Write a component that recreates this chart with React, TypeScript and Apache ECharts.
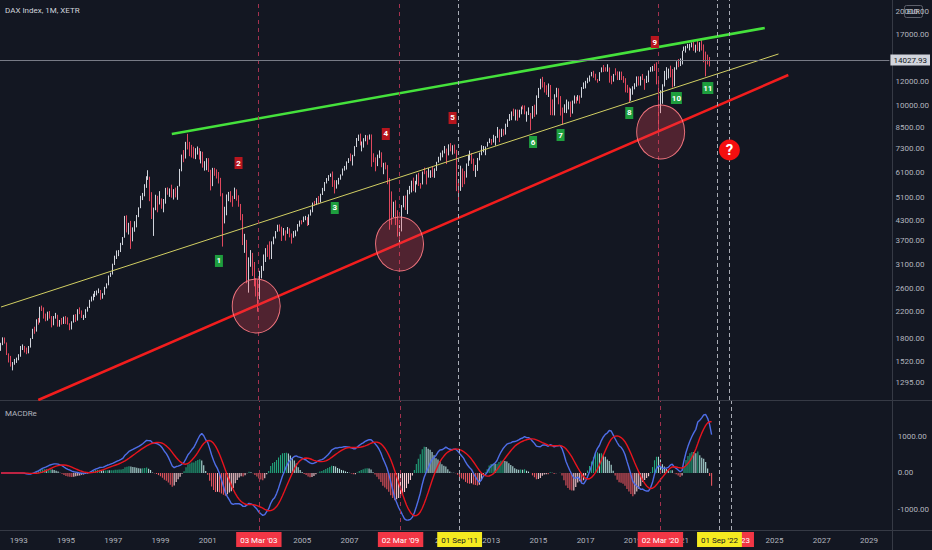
import React, { useEffect, useRef } from "react";
import * as echarts from "echarts";

// ---------- DATA (monthly DAX candles, Apr 1992 .. May 2022) ----------
const FIRST_YEAR = 1992;
const FIRST_MONTH = 4; // April
const MONTH_COUNT = 453; // axis runs Apr 1992 .. Dec 2029
const FIRST_OPEN = 1690;
const LAST_PRICE = 14027.93;

const closes = [
  1720, 1800, 1740, 1600, 1530, 1500, 1500, 1520, 1545,
  1580, 1680, 1680, 1660, 1630, 1690, 1790, 1920, 1900, 2060, 2030, 2267,
  2240, 2120, 2060, 2170, 2110, 1990, 2100, 2120, 1980, 2040, 2030, 2107,
  2050, 2000, 1920, 2030, 2110, 2050, 2220, 2170, 2100, 2100, 2210, 2254,
  2380, 2400, 2480, 2490, 2520, 2550, 2420, 2500, 2620, 2670, 2850, 2889,
  3100, 3270, 3420, 3440, 3590, 3790, 4440, 3980, 4170, 3780, 4060, 4250,
  4440, 4710, 5100, 5200, 5570, 5900, 5920, 5140, 4470, 4670, 5060, 5000,
  5000, 4860, 4880, 5390, 5260, 5380, 5130, 5330, 5150, 5530, 6220, 6958,
  6840, 7640, 7600, 7420, 7110, 6900, 7190, 7320, 6800, 7080, 6370, 6434,
  6790, 6210, 5830, 6260, 6120, 6060, 5860, 5190, 4310, 4560, 5100, 5160,
  5100, 5040, 5400, 5040, 4820, 4380, 3700, 3710, 2770, 3150, 3320, 2893,
  2750, 2550, 2420, 2940, 2980, 3220, 3490, 3480, 3260, 3650, 3790, 3965,
  4060, 4020, 3860, 3985, 3920, 4050, 3895, 3785, 3890, 3960, 4130, 4256,
  4250, 4350, 4350, 4180, 4460, 4590, 4890, 4830, 5040, 4930, 5190, 5408,
  5670, 5800, 5970, 6010, 5690, 5680, 5680, 5860, 6000, 6270, 6310, 6597,
  6790, 6720, 6920, 7410, 7880, 8010, 7580, 7640, 7860, 8020, 7870, 8067,
  6850, 6750, 6530, 6950, 7100, 6420, 6480, 6420, 5830, 4990, 4670, 4810,
  4340, 3840, 4080, 4770, 4940, 4810, 5330, 5460, 5680, 5410, 5630, 5957,
  5610, 5600, 6150, 6140, 5960, 5970, 6150, 5920, 6230, 6600, 6690, 6914,
  7080, 7270, 6950, 7510, 7290, 7380, 7160, 5780, 5500, 6140, 6090, 5898,
  6460, 6860, 6950, 6760, 6260, 6420, 6770, 6970, 7220, 7260, 7400, 7612,
  7780, 7740, 7800, 7910, 8350, 7960, 8280, 8100, 8590, 9030, 9400, 9552,
  9310, 9690, 9560, 9600, 9940, 9830, 9410, 9470, 9470, 9330, 9980, 9805,
  10690, 11400, 11970, 11450, 11410, 10940, 11310, 10260, 9660, 10850, 11380, 10743,
  9800, 9500, 9965, 10040, 10260, 9680, 10340, 10590, 10510, 10670, 10640, 11481,
  11540, 11830, 12310, 12440, 12620, 12330, 12120, 12060, 12830, 13230, 13020, 12918,
  13190, 12440, 12100, 12610, 12600, 12310, 12810, 12360, 12250, 11450, 11260, 10559,
  11170, 11520, 11530, 12340, 11730, 12400, 12190, 11940, 12430, 12870, 13240, 13249,
  12980, 11890, 9940, 10860, 11590, 12310, 12310, 12950, 12760, 11560, 13290, 13719,
  13430, 13790, 15010, 15140, 15420, 15530, 15540, 15840, 15260, 15690, 15100, 15885,
  15470, 14460, 14410, 14100, 14027.93,
];

const highs = [
  1740, 1812, 1810, 1745, 1610, 1580, 1510, 1545, 1560,
  1600, 1700, 1720, 1700, 1680, 1700, 1800, 1930, 1960, 2070, 2090, 2270,
  2290, 2260, 2160, 2190, 2200, 2120, 2120, 2170, 2140, 2060, 2090, 2110,
  2120, 2100, 2010, 2040, 2140, 2150, 2230, 2260, 2210, 2140, 2230, 2270,
  2390, 2450, 2500, 2550, 2560, 2600, 2570, 2510, 2630, 2700, 2860, 2920,
  3120, 3310, 3440, 3450, 3640, 3800, 4440, 4460, 4220, 4280, 4080, 4270,
  4470, 4730, 5150, 5260, 5610, 5950, 6220, 5930, 5290, 4720, 5190, 5150,
  5330, 5050, 5030, 5460, 5480, 5440, 5590, 5410, 5470, 5540, 6280, 6980,
  7220, 7670, 8136, 7670, 7500, 7400, 7320, 7410, 7320, 7160, 7130, 6650,
  6800, 6800, 6240, 6330, 6330, 6260, 6140, 5880, 5250, 4750, 5200, 5300,
  5330, 5150, 5470, 5400, 5170, 4850, 4500, 3890, 3720, 3270, 3450, 3380,
  3160, 2800, 2770, 2960, 3070, 3340, 3500, 3590, 3680, 3680, 3810, 3970,
  4160, 4170, 4100, 4060, 3990, 4090, 4050, 3900, 3970, 3990, 4180, 4290,
  4300, 4420, 4440, 4400, 4490, 4650, 4900, 4960, 5070, 5140, 5230, 5460,
  5700, 5870, 6000, 6070, 6160, 5780, 5780, 5880, 6030, 6300, 6420, 6640,
  6800, 7040, 6970, 7430, 7890, 8090, 8150, 7690, 7880, 8070, 8040, 8100,
  8100, 7050, 6840, 6980, 7200, 7100, 6570, 6590, 6460, 5870, 5320, 4930,
  4980, 4630, 4150, 4810, 5150, 5160, 5380, 5540, 5760, 5890, 5750, 6030,
  6100, 5660, 6160, 6340, 6200, 6320, 6220, 6390, 6310, 6620, 6870, 7080,
  7200, 7440, 7300, 7530, 7600, 7480, 7520, 7230, 5820, 6430, 6300, 6180,
  6540, 6960, 7190, 7060, 6780, 6470, 6810, 7080, 7480, 7440, 7410, 7670,
  7870, 7830, 8080, 8000, 8560, 8410, 8450, 8420, 8770, 9060, 9420, 9600,
  9800, 9740, 9730, 9720, 9950, 10050, 10030, 9600, 9890, 9490, 9990, 10090,
  10810, 11420, 12220, 12390, 11920, 11650, 11800, 11670, 10490, 10900, 11430, 11390,
  10750, 9880, 10120, 10480, 10330, 10330, 10400, 10800, 10700, 10830, 10800, 11490,
  11890, 12030, 12310, 12520, 12850, 12950, 12680, 12200, 12830, 13290, 13530, 13300,
  13600, 13280, 12490, 12660, 13200, 12900, 12890, 12880, 12460, 12270, 11680, 11460,
  11370, 11560, 11820, 12430, 12440, 12440, 12660, 12220, 12490, 12990, 13320, 13430,
  13640, 13800, 12100, 11230, 11730, 12950, 13310, 13170, 13460, 13130, 13300, 13900,
  14130, 14200, 15030, 15500, 15570, 15800, 15810, 15980, 16030, 15720, 16290, 16000,
  16285, 15740, 14930, 14600, 14340,
];

const lows = [
  1640, 1710, 1730, 1590, 1505, 1460, 1420, 1480, 1500,
  1530, 1570, 1650, 1620, 1600, 1610, 1680, 1790, 1860, 1890, 1990, 2020,
  2200, 2080, 2040, 2050, 2080, 1950, 1980, 2080, 1960, 1960, 1990, 2000,
  2000, 1990, 1910, 1920, 2020, 2030, 2050, 2150, 2090, 2060, 2090, 2190,
  2250, 2360, 2380, 2440, 2470, 2510, 2390, 2410, 2480, 2600, 2660, 2830,
  2880, 3090, 3230, 3300, 3400, 3580, 3780, 3930, 3870, 3480, 3680, 3950,
  4080, 4400, 4700, 4990, 5130, 5460, 5790, 4950, 4340, 3830, 4630, 4560,
  4830, 4680, 4560, 4860, 5190, 5110, 5080, 5010, 5090, 5000, 5520, 6170,
  6600, 6780, 7250, 6900, 6830, 6780, 6750, 6980, 6730, 6540, 6340, 6200,
  6220, 6140, 5360, 5530, 5970, 5850, 5640, 5130, 3540, 4200, 4460, 4950,
  4910, 4750, 5030, 4970, 4750, 4300, 3580, 3380, 2700, 2520, 3050, 2850,
  2640, 2450, 2190, 2400, 2800, 2960, 3160, 3280, 3220, 3230, 3600, 3760,
  3950, 3960, 3690, 3840, 3700, 3890, 3790, 3620, 3780, 3820, 3960, 4100,
  4170, 4240, 4300, 4120, 4150, 4450, 4560, 4780, 4810, 4840, 4900, 5180,
  5330, 5640, 5750, 5920, 5500, 5240, 5430, 5600, 5800, 5980, 6200, 6250,
  6560, 6650, 6440, 6900, 7380, 7720, 7470, 7150, 7350, 7700, 7510, 7800,
  6380, 6600, 6170, 6410, 6800, 6360, 6040, 6260, 5610, 4010, 4160, 4400,
  4150, 3810, 3589, 3960, 4730, 4640, 4500, 5210, 5280, 5330, 5280, 5600,
  5540, 5430, 5600, 6040, 5600, 5890, 5880, 5910, 5880, 6190, 6580, 6680,
  6840, 7040, 6510, 6940, 7150, 6980, 7030, 5330, 4970, 5340, 5490, 5610,
  5890, 6420, 6680, 6520, 6190, 5920, 6190, 6690, 6950, 7100, 6950, 7400,
  7600, 7500, 7630, 7460, 7900, 7650, 7950, 8030, 8090, 8560, 8950, 9000,
  9270, 8980, 8960, 9170, 9400, 9750, 9400, 8900, 9350, 8350, 9100, 9220,
  9380, 10600, 11300, 11450, 11040, 10850, 10680, 9340, 9330, 9320, 10650, 10120,
  9310, 8700, 9500, 9480, 9740, 9210, 9450, 10170, 10180, 10390, 10170, 10620,
  11330, 11380, 11820, 11960, 12440, 12310, 12070, 11870, 12020, 12810, 12840, 12890,
  12870, 11870, 11730, 11960, 12530, 12100, 12100, 12100, 11860, 11050, 11010, 10280,
  10390, 10860, 11300, 11520, 11620, 11620, 12100, 11260, 11840, 11910, 12860, 12890,
  12940, 11720, 8256, 9480, 10160, 11540, 12110, 12250, 12340, 11450, 11560, 13070,
  13310, 13420, 13580, 14990, 14820, 15300, 15060, 15400, 15020, 14820, 15010, 14920,
  15050, 13800, 12440, 13580, 13380,
];

// axis ticks (years hidden under the date tags of the reference are left out)
const yearLabels = ["1993", "1995", "1997", "1999", "2001", "2005", "2007", "2011",
  "2013", "2015", "2017", "2019", "2021", "2025", "2027", "2029"];
const priceTicks = [1295, 1520, 1800, 2200, 2600, 3100, 3700, 4300, 5100, 6100, 7300, 8500, 10000, 12000, 17000, 20000];
const macdTicks = [-1000, 0, 1000];
const PRICE_MIN = 1141;
const PRICE_MAX = 21850;
const MACD_MIN = -1562;
const MACD_MAX = 1973;

// indicator settings (MACD with simple moving averages)
const MACD_FAST = 12;
const MACD_SLOW = 26;
const MACD_SIGNAL = 9;

// vertical event lines and their time-axis tags
const eventDates = ["2003-03", "2009-03", "2011-09", "2020-03", "2022-09", "2023-03"];
const eventTags = ["03 Mar '03", "02 Mar '09", "01 Sep '11", "02 Mar '20", "01 Sep '22", "01 Mar '23"];
const eventTagKinds = ["red", "red", "yellow", "red", "yellow", "red"];
const eventLineKinds = ["red", "red", "gray", "red", "gray", "gray"];

// numbered notes
const noteTexts = ["1", "2", "3", "4", "5", "6", "7", "8", "9", "10", "11"];
const noteDates = ["2001-07", "2002-05", "2006-06", "2008-08", "2011-06", "2014-11", "2016-01", "2018-12", "2020-01", "2020-12", "2022-04"];
const notePrices = [3184, 6560, 4707, 8128, 9146, 7660, 8067, 9490, 16025, 10600, 11410];
const noteKinds = ["low", "high", "low", "high", "high", "low", "low", "low", "high", "low", "low"];

// circled lows and question mark
const circleDates = ["2003-02", "2009-03", "2020-04"];
const circlePrices = [2283, 3608, 8250];
const questionDate = "2023-03";
const questionPrice = 7222;

// trend lines (two anchor points each)
const greenLineDates = ["1999-07", "2024-09"];
const greenLinePrices = [8128, 17770];
const redLineDates = ["1993-11", "2025-09"];
const redLinePrices = [1141, 12560];
const yellowLineDates = ["1992-04", "2025-04"];
const yellowLinePrices = [2266, 14670];

// ---------- BUILD ----------
const categories: string[] = [];
for (let i = 0; i < MONTH_COUNT; i++) {
  const t = FIRST_YEAR * 12 + (FIRST_MONTH - 1) + i;
  const y = Math.floor(t / 12);
  const m = (t % 12) + 1;
  categories.push(`${y}-${String(m).padStart(2, "0")}`);
}

const candles = closes.map((c, i) => [i === 0 ? FIRST_OPEN : closes[i - 1], c, lows[i], highs[i]]);

// MACD of the monthly closes (simple moving averages; shorter windows at the very start)
function sma(src: number[], len: number): number[] {
  const out: number[] = [];
  for (let i = 0; i < src.length; i++) {
    const from = Math.max(0, i - len + 1);
    let s = 0;
    for (let j = from; j <= i; j++) s += src[j];
    out.push(s / (i - from + 1));
  }
  return out;
}
const fastMA = sma(closes, MACD_FAST);
const slowMA = sma(closes, MACD_SLOW);
const macd = fastMA.map((v, i) => v - slowMA[i]);
const signal = sma(macd, MACD_SIGNAL);
const hist = macd.map((v, i) => v - signal[i]);

const BG = "#131722";
const FONT = "Roboto, 'Noto Sans', sans-serif";
const AXIS_TEXT = "#b2b5be";

const histData = hist.map((h, i) => {
  const prev = i === 0 ? 0 : hist[i - 1];
  let color;
  if (h >= 0) color = prev < h ? "#22a67c" : "#b2dfdb";
  else color = prev < h ? "#ffcdd2" : "#e8545f";
  return { value: h, itemStyle: { color } };
});

const lineStyleFor = (kind: string) =>
  kind === "red"
    ? { color: "#a3324f", type: [4, 4], width: 1 }
    : { color: "#a9acb5", type: [4, 3], width: 1 };

const upperEventLines = eventDates.map((d, i) => ({
  xAxis: d,
  lineStyle: lineStyleFor(eventLineKinds[i]),
  label: { show: false },
}));

const order = eventDates.map((_, i) => i).sort((a, b) => {
  const ka = eventTagKinds[a] === "yellow" ? 1 : 0;
  const kb = eventTagKinds[b] === "yellow" ? 1 : 0;
  return ka - kb || a - b;
});
const lowerEventLines = order.map((i) => ({
  xAxis: eventDates[i],
  lineStyle: lineStyleFor(eventLineKinds[i]),
  label: {
    show: true,
    position: "start",
    distance: 2,
    formatter: eventTags[i],
    backgroundColor: eventTagKinds[i] === "yellow" ? "#f5ea20" : "#f23645",
    color: eventTagKinds[i] === "yellow" ? "#131722" : "#ffffff",
    padding: [4, 4, 3, 4],
    fontSize: 8,
    fontFamily: FONT,
  },
}));

const notePoints = noteTexts.map((t, i) => ({
  name: t,
  coord: [noteDates[i], notePrices[i]],
  symbol: "rect",
  symbolSize: [t.length > 1 ? 11 : 8, 12],
  itemStyle: { color: noteKinds[i] === "low" ? "#1e9e3e" : "#b8161e" },
  label: { show: true, formatter: t, color: "#ffffff", fontSize: 8, fontWeight: "bold", fontFamily: FONT },
}));
const circlePoints = circleDates.map((d, i) => ({
  coord: [d, circlePrices[i]],
  symbol: "circle",
  symbolSize: [48, 54],
  itemStyle: { color: "rgba(240,70,85,0.28)", borderColor: "rgba(250,120,130,0.95)", borderWidth: 1 },
  label: { show: false },
}));
const questionPoint = {
  coord: [questionDate, questionPrice],
  symbol: "circle",
  symbolSize: 21,
  itemStyle: { color: "#f50f0f" },
  label: { show: true, formatter: "?", color: "#ffffff", fontSize: 15, fontWeight: "bold", fontFamily: FONT },
};

const trend = (name: string, dates: string[], prices: number[], color: string, width: number) => ({
  name,
  type: "line",
  xAxisIndex: 0,
  yAxisIndex: 0,
  data: dates.map((d, i) => [d, prices[i]]),
  symbol: "none",
  silent: true,
  lineStyle: { color, width },
  z: 3,
});

const option: any = {
  backgroundColor: BG,
  animation: false,
  textStyle: { fontFamily: FONT },
  grid: [
    { left: 0, right: 40, top: 0, height: 400 },
    { left: 0, right: 40, top: 401, height: 129 },
  ],
  xAxis: [
    {
      type: "category", gridIndex: 0, data: categories, boundaryGap: true,
      axisLine: { show: false }, axisTick: { show: false }, axisLabel: { show: false }, splitLine: { show: false },
    },
    {
      type: "category", gridIndex: 1, data: categories, boundaryGap: true,
      axisLine: { show: false }, axisTick: { show: false }, splitLine: { show: false },
      axisLabel: {
        interval: (_i: number, v: string) => v.endsWith("-01") && yearLabels.includes(v.slice(0, 4)),
        formatter: (v: string) => v.slice(0, 4),
        color: AXIS_TEXT, fontSize: 8, margin: 6, fontFamily: FONT,
      },
    },
  ],
  yAxis: [
    {
      type: "log", logBase: 10, gridIndex: 0, position: "right", min: PRICE_MIN, max: PRICE_MAX,
      axisLine: { show: false }, axisTick: { show: false }, splitLine: { show: false },
      axisLabel: {
        customValues: priceTicks,
        formatter: (v: number) => Number(v).toFixed(2),
        color: AXIS_TEXT, fontSize: 8, margin: 6, fontFamily: FONT,
      },
    },
    {
      type: "value", gridIndex: 1, position: "right", min: MACD_MIN, max: MACD_MAX,
      axisLine: { show: false }, axisTick: { show: false }, splitLine: { show: false },
      axisLabel: {
        customValues: macdTicks,
        formatter: (v: number) => Number(v).toFixed(2),
        color: AXIS_TEXT, fontSize: 8, margin: 6, fontFamily: FONT,
      },
    },
  ],
  series: [
    {
      name: "DAX",
      type: "candlestick",
      xAxisIndex: 0,
      yAxisIndex: 0,
      data: candles,
      barWidth: "62%",
      itemStyle: { color: "#d1d4dc", color0: "#e0485e", borderColor: "#d1d4dc", borderColor0: "#e0485e", borderWidth: 1 },
      markLine: {
        silent: true,
        symbol: ["none", "none"],
        data: [
          ...upperEventLines,
          {
            yAxis: LAST_PRICE,
            lineStyle: { color: "#787b86", type: "solid", width: 1 },
            label: {
              show: true, position: "end", distance: 1, formatter: LAST_PRICE.toFixed(2),
              backgroundColor: "#d1d4dc", color: "#131722", padding: [2, 3, 1, 3], fontSize: 8, fontFamily: FONT,
            },
          },
        ],
      },
      markPoint: {
        silent: true,
        data: [...circlePoints, ...notePoints, questionPoint],
      },
    },
    trend("yellow", yellowLineDates, yellowLinePrices, "#d2cf63", 1),
    trend("green", greenLineDates, greenLinePrices, "#45e23c", 2.5),
    trend("red", redLineDates, redLinePrices, "#f21d1d", 2.5),
    {
      name: "Histogram",
      type: "bar",
      xAxisIndex: 1,
      yAxisIndex: 1,
      data: histData,
      barWidth: "55%",
      silent: true,
    },
    {
      name: "MACD",
      type: "line",
      xAxisIndex: 1,
      yAxisIndex: 1,
      data: macd,
      symbol: "none",
      silent: true,
      lineStyle: { color: "#4f6ee8", width: 1.4 },
      markLine: { silent: true, symbol: ["none", "none"], data: lowerEventLines },
    },
    {
      name: "Signal",
      type: "line",
      xAxisIndex: 1,
      yAxisIndex: 1,
      data: signal,
      symbol: "none",
      silent: true,
      lineStyle: { color: "#e8141e", width: 1.4 },
    },
  ],
  graphic: [
    { type: "line", silent: true, shape: { x1: 0, y1: 400.5, x2: 932, y2: 400.5 }, style: { stroke: "#363a45", lineWidth: 1 } },
    { type: "line", silent: true, shape: { x1: 0, y1: 530.5, x2: 932, y2: 530.5 }, style: { stroke: "#363a45", lineWidth: 1 } },
    { type: "line", silent: true, shape: { x1: 892.5, y1: 0, x2: 892.5, y2: 550 }, style: { stroke: "#363a45", lineWidth: 1 } },
    { type: "text", left: 5, top: 6, silent: true, style: { text: "DAX Index, 1M, XETR", fill: "#d1d4dc", fontSize: 8, fontFamily: FONT } },
    { type: "text", left: 5, top: 409, silent: true, style: { text: "MACDRe", fill: "#b2b5be", fontSize: 8, fontFamily: FONT } },
    {
      type: "group", left: 904, top: 5, silent: true, z: 100,
      children: [
        { type: "rect", shape: { x: 0, y: 0, width: 18, height: 12, r: 2 }, style: { fill: BG, stroke: "#5d606b", lineWidth: 1 } },
        { type: "text", x: 9, y: 6.5, style: { text: "EUR", fill: "#d1d4dc", fontSize: 7, fontFamily: FONT, align: "center", verticalAlign: "middle" } },
      ],
    },
  ],
};

export default function App() {
  const ref = useRef<HTMLDivElement>(null);
  useEffect(() => {
    document.body.style.margin = "0";
    document.body.style.background = BG;
    const chart = echarts.init(ref.current as HTMLDivElement, undefined, { renderer: "svg" });
    chart.setOption(option);
    return () => chart.dispose();
  }, []);
  return <div ref={ref} style={{ width: 932, height: 550 }} />;
}
